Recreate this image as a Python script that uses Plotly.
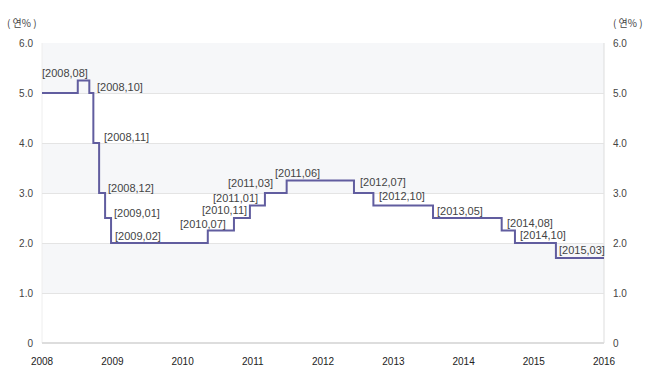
import plotly.graph_objects as go

# ---- data ----
start_date = "2008-01-01"
end_date = "2016-01-01"
start_rate = 5.0
change_dates = ["2008-07-05", "2008-09-03", "2008-09-24", "2008-10-24", "2008-11-24",
                "2008-12-25", "2010-05-12", "2010-09-25", "2010-12-17", "2011-03-05",
                "2011-06-26", "2012-06-10", "2012-09-19", "2013-07-26", "2014-07-18",
                "2014-09-25", "2015-04-26"]
change_rates = [5.25, 5.0, 4.0, 3.0, 2.5, 2.0, 2.25, 2.5, 2.75, 3.0, 3.25,
                3.0, 2.75, 2.5, 2.25, 2.0, 1.7]
change_labels = ["[2008,08]", "[2008,10]", "[2008,11]", "[2008,12]", "[2009,01]",
                 "[2009,02]", "[2010,07]", "[2010,11]", "[2011,01]", "[2011,03]",
                 "[2011,06]", "[2012,07]", "[2012,10]", "[2013,05]", "[2014,08]",
                 "[2014,10]", "[2015,03]"]
y_ticks = [0, 1, 2, 3, 4, 5, 6]
y_tick_text = ["0", "1.0", "2.0", "3.0", "4.0", "5.0", "6.0"]
x_tick_years = ["2008", "2009", "2010", "2011", "2012", "2013", "2014", "2015", "2016"]
unit_label = "( 연% )"

# ---- label offsets (style, pixels) ----
label_dx = [-13, 31, 33, 32, 32, 27, -5, -9, -14, -14, 11, 29, 29, 27, 28, 28, 26]
label_dy = [8, 6, 6, 5, 5, 7, 7, 8, 8, 10, 8, 11, 10, 7, 8, 8, 8]

xs = [start_date] + change_dates + [end_date]
ys = [start_rate] + change_rates + [change_rates[-1]]

LINE = "#615d9f"
BAND = "#f6f7f9"
GRID = "#e4e4e4"
TXT = "#444444"
FONT = "Liberation Sans, Arial, sans-serif"

fig = go.Figure()
fig.add_trace(go.Scatter(x=xs, y=ys, mode="lines", line=dict(color=LINE, width=2, shape="hv"),
                         hoverinfo="skip", showlegend=False))
fig.add_trace(go.Scatter(x=[start_date], y=[0], yaxis="y2", mode="markers",
                         marker=dict(opacity=0), hoverinfo="skip", showlegend=False))

shapes = []
for lo in [1, 3, 5]:
    shapes.append(dict(type="rect", xref="paper", yref="y", x0=0, x1=1, y0=lo, y1=lo + 1,
                       fillcolor=BAND, line=dict(width=0), layer="below"))
shapes.append(dict(type="line", xref="paper", yref="paper", x0=1, x1=1, y0=0, y1=1,
                   line=dict(color="#dddddd", width=1), layer="below"))
shapes.append(dict(type="line", xref="paper", yref="paper", x0=0, x1=0, y0=0, y1=1,
                   line=dict(color="#eeeeee", width=1), layer="below"))

annotations = []
for d, r, t, dx, dy in zip(change_dates, change_rates, change_labels, label_dx, label_dy):
    annotations.append(dict(x=d, y=r, text=t, showarrow=False, xshift=dx, yshift=dy,
                            xanchor="center", yanchor="middle",
                            font=dict(family=FONT, size=11, color=TXT)))
annotations.append(dict(xref="paper", yref="paper", x=-0.036, y=1.0, yshift=21, text=unit_label,
                        showarrow=False, xanchor="center", yanchor="middle",
                        font=dict(family="Noto Sans CJK KR", size=10, color=TXT)))
annotations.append(dict(xref="paper", yref="paper", x=1.043, y=1.0, yshift=21, text=unit_label,
                        showarrow=False, xanchor="center", yanchor="middle",
                        font=dict(family="Noto Sans CJK KR", size=10, color=TXT)))

fig.update_layout(
    width=652, height=392,
    margin=dict(l=42, r=48, t=43, b=49),
    paper_bgcolor="white", plot_bgcolor="white",
    shapes=shapes, annotations=annotations,
    xaxis=dict(type="date", range=[start_date, end_date],
               tickvals=[y + "-01-01" for y in x_tick_years], ticktext=x_tick_years,
               showgrid=False, zeroline=False, showline=False, ticks="",
               tickfont=dict(family=FONT, size=10, color="#222222"), ticklabelstandoff=11,
               fixedrange=True),
    yaxis=dict(range=[0, 6], tickvals=y_ticks, ticktext=y_tick_text,
               showgrid=True, gridcolor=GRID, gridwidth=1, zeroline=True,
               zerolinecolor="#dddddd", zerolinewidth=2, showline=False, ticks="",
               tickfont=dict(family=FONT, size=10, color=TXT), ticklabelstandoff=8),
    yaxis2=dict(range=[0, 6], tickvals=y_ticks, ticktext=y_tick_text, overlaying="y",
                side="right", showgrid=False, zeroline=False, showline=False, ticks="",
                tickfont=dict(family=FONT, size=10, color=TXT), ticklabelstandoff=8),
)

fig.write_html("out.html", config={"displayModeBar": False, "staticPlot": True},
               post_script="document.body.style.margin='0';document.body.style.overflow='hidden';")
